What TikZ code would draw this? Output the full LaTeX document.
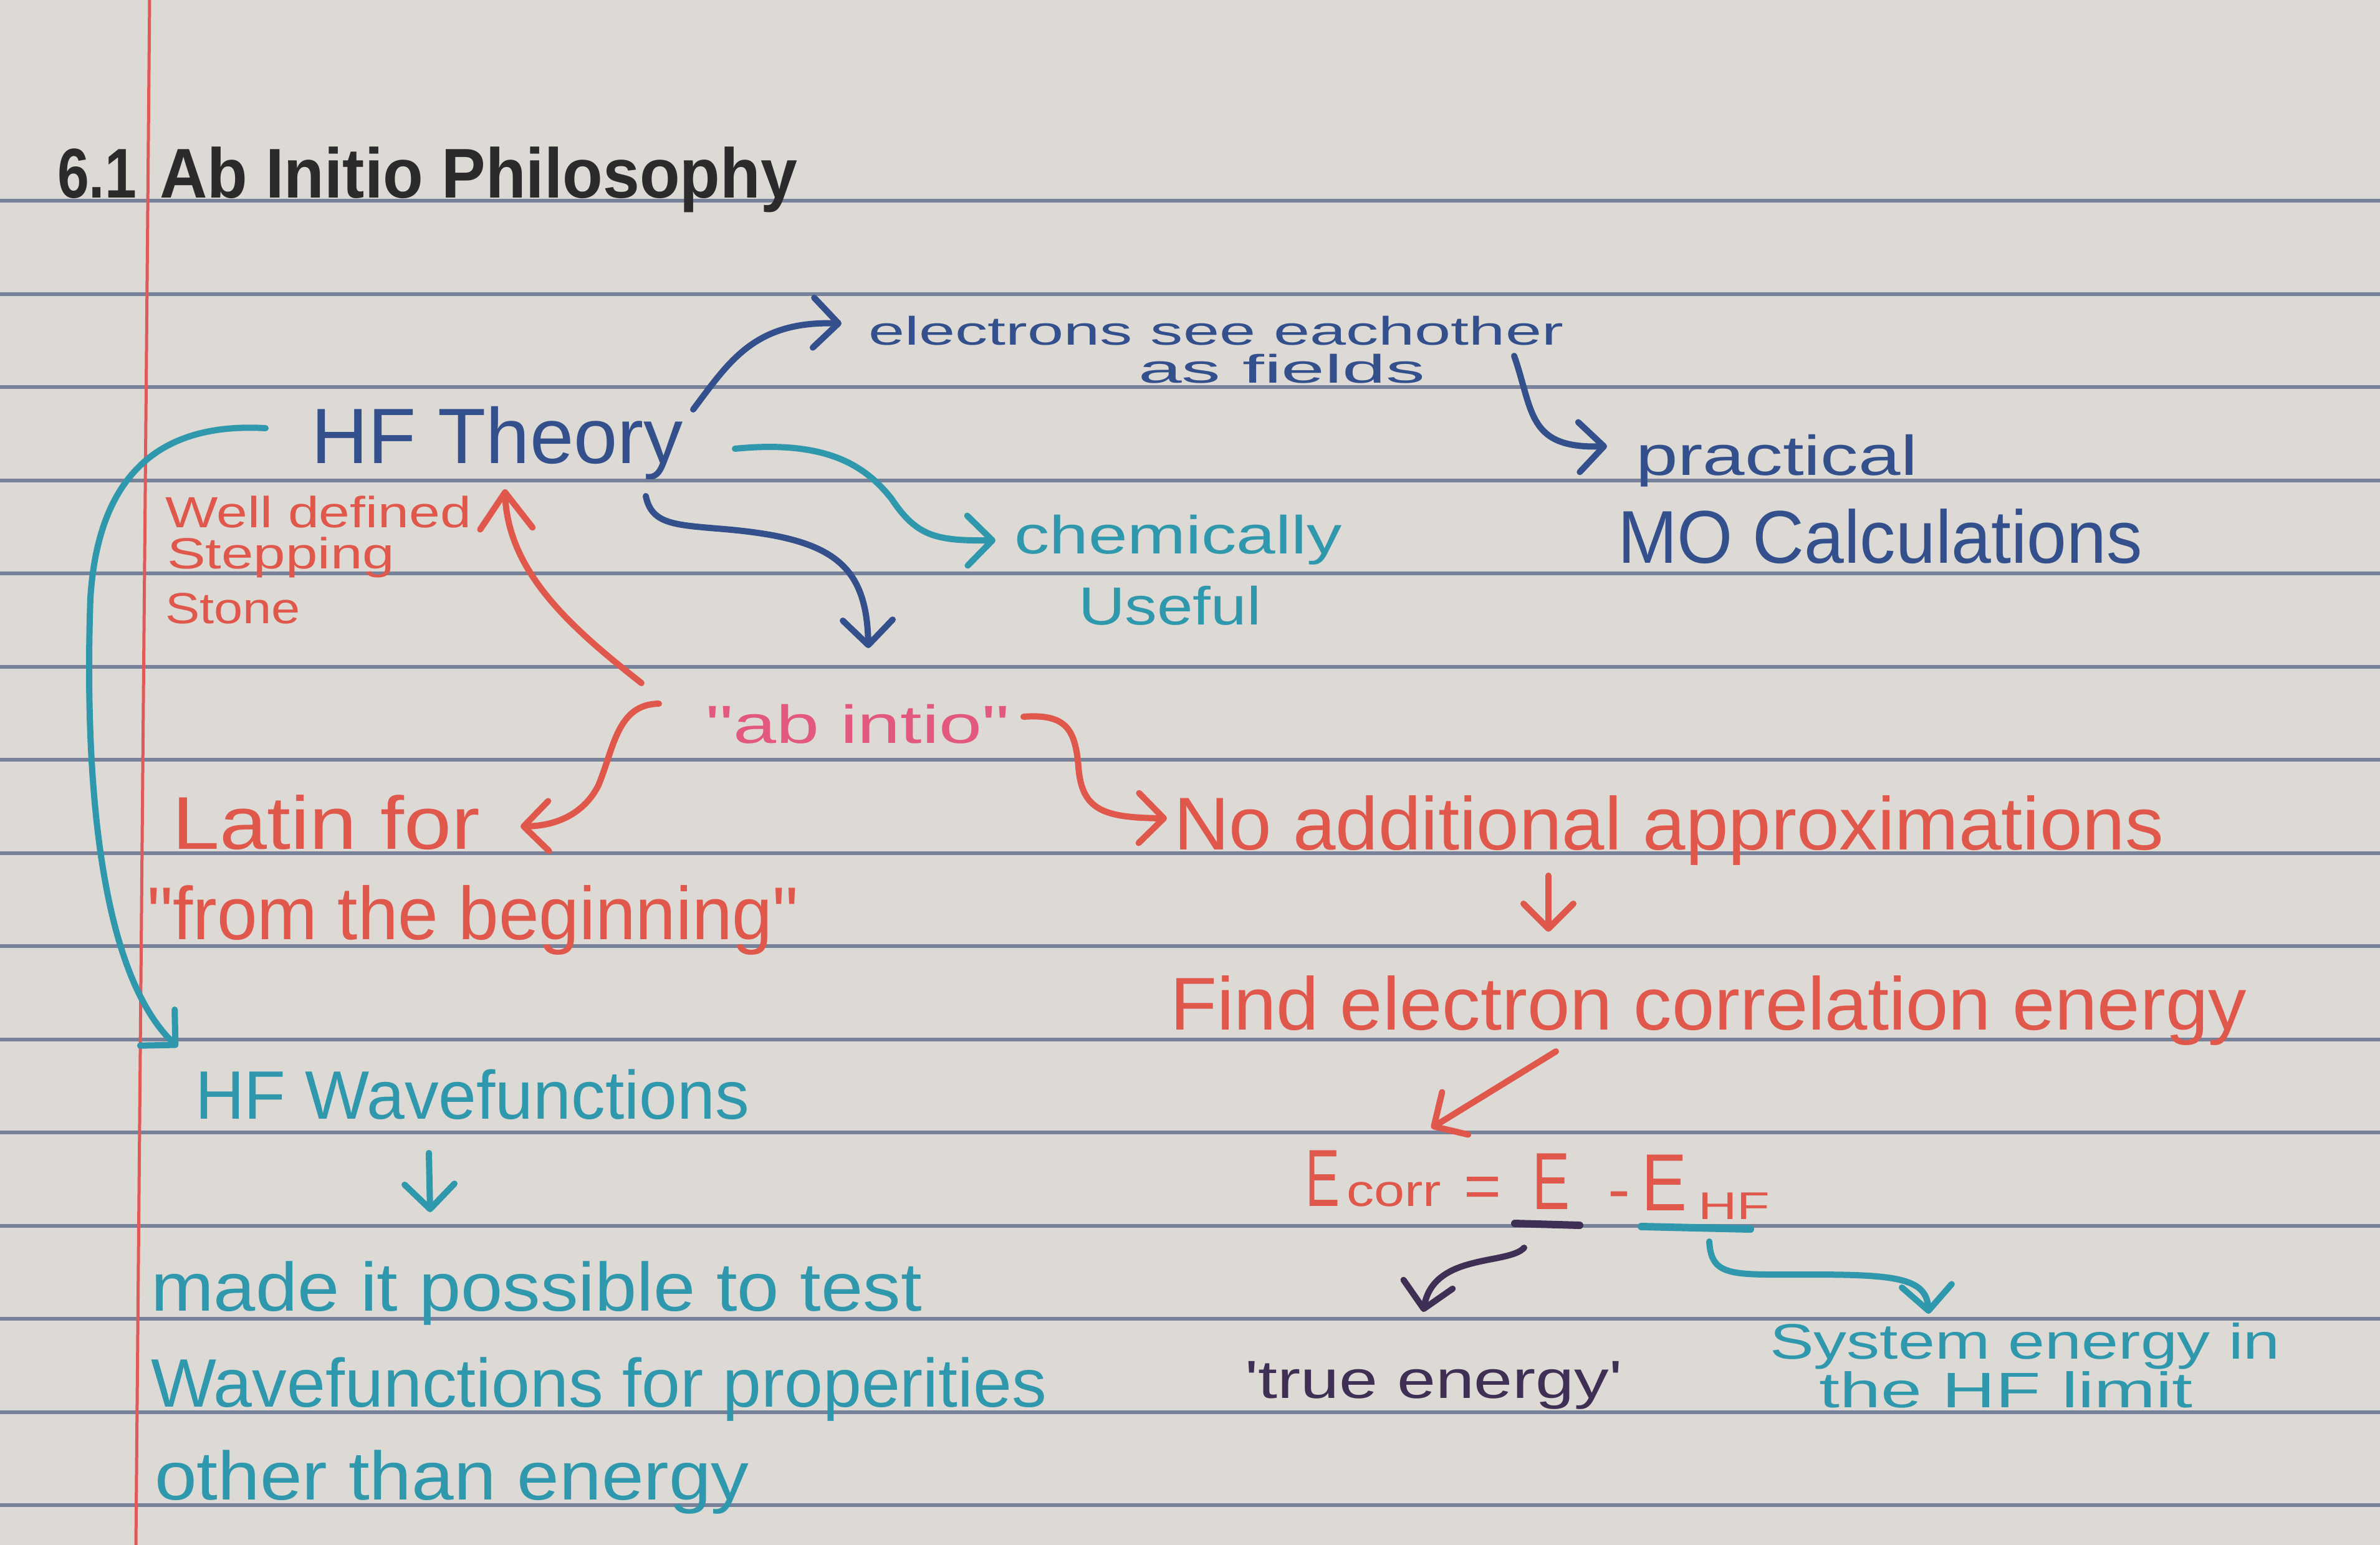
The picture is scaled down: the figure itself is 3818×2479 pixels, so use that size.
\documentclass[tikz,border=0pt]{standalone}
\usepackage{fontspec}
\setmainfont{Liberation Sans}
\usepackage{graphicx}
\usetikzlibrary{arrows.meta}

\definecolor{paper}{HTML}{DDDAD5}
\definecolor{rulecol}{HTML}{77829A}
\definecolor{margincol}{HTML}{E05A5A}
\definecolor{inkblack}{HTML}{2B2B2B}
\definecolor{inknavy}{HTML}{34508C}
\definecolor{inkteal}{HTML}{2F98AD}
\definecolor{inkred}{HTML}{E0574C}
\definecolor{inkpink}{HTML}{E2587E}
\definecolor{inkpurple}{HTML}{3F2F55}

% text at a given size, stretched to a given width: \hw{size}{width}{text}
\newcommand\hw[3]{\resizebox{#2pt}{\height}{\fontsize{#1pt}{#1pt}\selectfont #3}}
\newcommand\dq{\textquotedbl}

\begin{document}
\begin{tikzpicture}[x=1pt,y=-1pt,
  lbl/.style={inner sep=0pt, outer sep=0pt, anchor=base west},
  ink/.style={line width=10pt, line cap=round, line join=round},
  tipa/.style={-{Straight Barb[length=40pt,width=80pt,round]}},
  tipb/.style={-{Straight Barb[length=58pt,width=84pt,round]}}]

\useasboundingbox (0,0) rectangle (3818,2479);

% ruled sheet
\fill[paper] (0,0) rectangle (3818,2479);
\foreach \k in {0,...,14}
  \draw[rulecol, line width=6pt] (0,{322+149.5*\k}) -- (3818,{322+149.5*\k});
\draw[margincol, line width=5pt] (240,0) -- (218,2479);

% heading
\node[lbl, inkblack] (sec) at (92,317) {\bfseries\hw{113}{127}{6.1}};
\node[lbl, inkblack] (title) at (256,317) {\bfseries\hw{113}{1023}{Ab Initio Philosophy}};

% HF theory branch
\node[lbl, inknavy] (hft) at (499,743) {\hw{126}{597}{HF Theory}};
\node[lbl, inknavy] (elec) at (1393,553) {\hw{64}{1115}{electrons see eachother}};
\node[lbl, inknavy] (fields) at (1826,614) {\hw{64}{460}{as fields}};
\node[lbl, inknavy] (prac) at (2624,762) {\hw{90}{452}{practical}};
\node[lbl, inknavy] (moc) at (2595,903) {\hw{120}{842}{MO Calculations}};
\node[lbl, inkteal] (chem) at (1627,888) {\hw{86}{526}{chemically}};
\node[lbl, inkteal] (useful) at (1730,1002) {\hw{86}{293}{Useful}};
\node[lbl, inkred] (well) at (265,846) {\hw{70}{491}{Well defined}};
\node[lbl, inkred] (stepping) at (268,912) {\hw{70}{365}{Stepping}};
\node[lbl, inkred] (stone) at (265,1000) {\hw{70}{217}{Stone}};

% ab initio branch
\node[lbl, inkpink] (abi) at (1132,1192) {\hw{86}{488}{\dq ab intio\dq}};
\node[lbl, inkred] (latin) at (276,1362) {\hw{120}{494}{Latin for}};
\node[lbl, inkred] (begin) at (236,1507) {\hw{120}{1045}{\dq from the beginning\dq}};
\node[lbl, inkred] (noadd) at (1883,1363) {\hw{120}{1588}{No additional approximations}};
\node[lbl, inkred] (find) at (1877,1652) {\hw{120}{1727}{Find electron correlation energy}};

% correlation energy
\node[lbl, inkred] (e1) at (2094,1935) {\hw{130}{55}{E}};
\node[lbl, inkred] (corr) at (2160,1935) {\hw{72}{152}{corr}};
\node[lbl, inkred] (eqs) at (2348,1937) {\hw{100}{60}{=}};
\node[lbl, inkred] (e2) at (2458,1940) {\hw{130}{60}{E}};
\node[lbl, inkred] (minus) at (2579,1942) {\hw{100}{36}{-}};
\node[lbl, inkred] (e3) at (2633,1942) {\hw{130}{73}{E}};
\node[lbl, inkred] (hfsub) at (2724,1956) {\hw{62}{115}{HF}};
\node[lbl, inkpurple] (truee) at (1997,2243) {\hw{86}{606}{\textquotesingle true energy\textquotesingle}};
\node[lbl, inkteal] (sys) at (2839,2180) {\hw{80}{819}{System energy in}};
\node[lbl, inkteal] (hflim) at (2918,2258) {\hw{80}{600}{the HF limit}};

% wavefunctions
\node[lbl, inkteal] (hfw) at (313,1795) {\hw{110}{889}{HF Wavefunctions}};
\node[lbl, inkteal] (made) at (242,2103) {\hw{110}{1237}{made it possible to test}};
\node[lbl, inkteal] (wavef) at (242,2257) {\hw{110}{1437}{Wavefunctions for properities}};
\node[lbl, inkteal] (other) at (248,2406) {\hw{110}{954}{other than energy}};

% connector end points
\coordinate (c1a) at (1112,657);  \coordinate (c1b) at (1350,519);
\coordinate (c2a) at (2429,571);  \coordinate (c2b) at (2578,716);
\coordinate (c3a) at (1179,720);  \coordinate (c3m) at (1430,800);  \coordinate (c3b) at (1597,867);
\coordinate (c4a) at (1036,796);  \coordinate (c4m) at (1150,848);  \coordinate (c4b) at (1393,1040);
\coordinate (c5a) at (1029,1096); \coordinate (c5b) at (810,785);
\coordinate (c6a) at (1057,1129); \coordinate (c6m) at (960,1260);  \coordinate (c6b) at (835,1326);
\coordinate (c7a) at (1642,1150); \coordinate (c7m) at (1730,1230); \coordinate (c7b) at (1872,1313);
\coordinate (c8a) at (2484,1405); \coordinate (c8b) at (2484,1495);
\coordinate (c9a) at (2496,1687); \coordinate (c9b) at (2296,1810);
\coordinate (c10a) at (2445,2002); \coordinate (c10b) at (2283,2105);
\coordinate (c11a) at (2742,1992); \coordinate (c11m) at (2900,2045); \coordinate (c11b) at (3094,2108);
\coordinate (c12a) at (426,687);  \coordinate (c12m) at (145,960);  \coordinate (c12b) at (285,1680);
\coordinate (c13a) at (688,1850); \coordinate (c13b) at (690,1945);

% connectors
\draw[ink, inknavy, tipa] (c1a) .. controls (1170,580) and (1210,515) .. (c1b);
\draw[ink, inknavy, tipa] (c2a) .. controls (2460,660) and (2450,720) .. (c2b);
\draw[ink, inkteal, tipa] (c3a) .. controls (1330,705) and (1390,750) .. (c3m)
                                .. controls (1470,860) and (1500,868) .. (c3b);
\draw[ink, inknavy, tipa] (c4a) .. controls (1045,840) and (1080,842) .. (c4m)
                                .. controls (1330,862) and (1390,900) .. (c4b);
\draw[ink, inkred, tipb] (c5a) .. controls (920,1010) and (815,920) .. (c5b);
\draw[ink, inkred, tipa] (c6a) .. controls (990,1130) and (985,1200) .. (c6m)
                               .. controls (940,1300) and (900,1325) .. (c6b);
\draw[ink, inkred, tipa] (c7a) .. controls (1710,1145) and (1725,1170) .. (c7m)
                               .. controls (1735,1300) and (1770,1312) .. (c7b);
\draw[ink, inkred, tipa] (c8a) -- (c8b);
\draw[ink, inkred, tipa] (c9a) -- (c9b);
\draw[ink, inkpurple, tipa] (c10a) .. controls (2420,2030) and (2300,2010) .. (c10b);
\draw[ink, inkteal, tipa] (c11a) .. controls (2745,2050) and (2780,2045) .. (c11m)
                                 .. controls (3040,2045) and (3090,2050) .. (c11b);
\draw[ink, inkteal, tipa] (c12a) .. controls (300,680) and (160,720) .. (c12m)
                                 .. controls (135,1250) and (160,1560) .. (c12b);
\draw[ink, inkteal, tipa] (c13a) -- (c13b);

% underlines of the energy terms
\draw[ink, inkpurple, line width=12pt] (2430,1963) -- (2534,1966);
\draw[ink, inkteal, line width=12pt] (2633,1968) -- (2808,1972);

\end{tikzpicture}
\end{document}
